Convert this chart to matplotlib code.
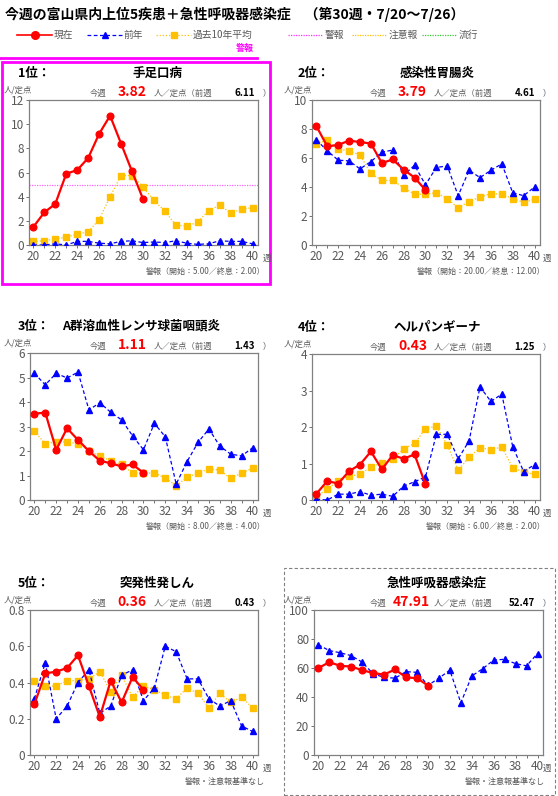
import matplotlib
matplotlib.use("Agg")
import matplotlib.pyplot as plt
from matplotlib.lines import Line2D
from matplotlib.patches import Rectangle

plt.rcParams['font.family'] = ['Noto Sans CJK JP', 'DejaVu Sans']

weeks = list(range(20, 41))
cur_weeks = list(range(20, 31))

titles = ["手足口病", "感染性胃腸炎", "A群溶血性レンサ球菌咽頭炎", "ヘルパンギーナ", "突発性発しん", "急性呼吸器感染症"]
ranks = ["1位：", "2位：", "3位：", "4位：", "5位：", ""]
this_week = ["3.82", "3.79", "1.11", "0.43", "0.36", "47.91"]
last_week = ["6.11", "4.61", "1.43", "1.25", "0.43", "52.47"]
notes = ["警報（開始：5.00／終息：2.00）", "警報（開始：20.00／終息：12.00）", "警報（開始：8.00／終息：4.00）",
         "警報（開始：6.00／終息：2.00）", "警報・注意報基準なし", "警報・注意報基準なし"]
ymax = [12, 10, 6, 4, 0.8, 100]
ystep = [2, 2, 1, 1, 0.2, 20]
warn = [5, None, None, None, None, None]

cur = [
    [1.5, 2.7, 3.4, 5.9, 6.2, 7.2, 9.2, 10.7, 8.4, 6.1, 3.82],
    [8.2, 6.8, 6.9, 7.2, 7.1, 7.0, 5.65, 5.9, 5.2, 4.65, 3.79],
    [3.52, 3.57, 2.05, 2.93, 2.45, 2.0, 1.6, 1.5, 1.37, 1.45, 1.11],
    [0.17, 0.52, 0.45, 0.79, 0.97, 1.33, 0.84, 1.23, 1.13, 1.25, 0.43],
    [0.28, 0.45, 0.46, 0.48, 0.55, 0.38, 0.21, 0.41, 0.29, 0.43, 0.36],
    [60, 64, 61.5, 61, 58.5, 56.5, 55.5, 59, 53.5, 53, 47.91],
]
prev = [
    [0, 0, 0.1, 0, 0.3, 0.3, 0.15, 0.1, 0.3, 0.35, 0.2, 0.25, 0.2, 0.35, 0.15, 0.05, 0.1, 0.35, 0.3, 0.3, 0.1],
    [7.25, 6.5, 5.85, 5.8, 5.25, 5.75, 6.4, 6.55, 4.8, 5.5, 4.15, 5.35, 5.45, 3.4, 5.15, 4.65, 5.15, 5.6, 3.6, 3.4, 4.0],
    [5.17, 4.7, 5.17, 4.98, 5.22, 3.68, 3.97, 3.58, 3.27, 2.62, 2.05, 3.13, 2.58, 0.65, 1.57, 2.35, 2.9, 2.2, 1.87, 1.8, 2.13],
    [0.02, 0.0, 0.16, 0.16, 0.23, 0.13, 0.16, 0.1, 0.38, 0.5, 0.63, 1.8, 1.8, 1.13, 1.62, 3.1, 2.7, 2.9, 1.46, 0.78, 0.97],
    [0.31, 0.51, 0.2, 0.27, 0.4, 0.47, 0.23, 0.27, 0.44, 0.47, 0.30, 0.37, 0.6, 0.57, 0.42, 0.42, 0.31, 0.27, 0.3, 0.16, 0.13],
    [76, 72, 70.5, 68.5, 64, 56, 53.5, 53, 57.5, 57, 48, 53, 58.5, 36, 54.5, 59.5, 65.5, 66, 63, 61.5, 70],
]
avg = [
    [0.3, 0.35, 0.5, 0.65, 0.9, 1.1, 2.1, 4.0, 5.75, 5.75, 4.8, 3.7, 2.8, 1.65, 1.55, 1.9, 2.85, 3.3, 2.65, 2.95, 3.1],
    [6.95, 7.25, 6.6, 6.5, 6.2, 4.95, 4.45, 4.45, 3.95, 3.5, 3.5, 3.6, 3.2, 2.55, 3.0, 3.3, 3.55, 3.5, 3.2, 2.95, 3.15],
    [2.8, 2.3, 2.37, 2.37, 2.3, 2.0, 1.8, 1.6, 1.45, 1.1, 1.1, 1.1, 0.9, 0.58, 0.93, 1.1, 1.27, 1.22, 0.88, 1.1, 1.3],
    [0.1, 0.3, 0.53, 0.65, 0.7, 0.91, 1.01, 1.12, 1.4, 1.55, 1.95, 2.03, 1.5, 0.82, 1.17, 1.43, 1.38, 1.45, 0.88, 0.77, 0.7],
    [0.41, 0.38, 0.38, 0.41, 0.41, 0.42, 0.46, 0.35, 0.44, 0.32, 0.38, 0.36, 0.33, 0.31, 0.37, 0.34, 0.26, 0.34, 0.29, 0.32, 0.26],
    None,
]

W, H = 558, 796
fig = plt.figure(figsize=(W / 100, H / 100), dpi=100)

def fx(x): return x / W
def fy(y): return 1 - y / H
def T(x, y, s, **kw):
    fig.text(fx(x), fy(y), s, **kw)

boxes = [(29, 100, 258, 245), (312, 100, 540, 245), (30, 353, 258, 500),
         (312, 354, 540, 500), (30, 610, 258, 755), (314, 610, 543, 755)]

GR = '#595959'
for i, (l, t, r, b) in enumerate(boxes):
    ax = fig.add_axes([fx(l), fy(b), (r - l) / W, (b - t) / H])
    ax.plot(weeks, prev[i], color='#0000ff', ls=(0, (3, 2)), lw=0.9, marker='^', ms=4.5, zorder=3)
    if avg[i] is not None:
        ax.plot(weeks, avg[i], color='#ffc000', ls=(0, (1, 1.5)), lw=0.9, marker='s', ms=3.8, zorder=2)
    ax.plot(cur_weeks, cur[i], color='#ff0000', lw=1.6, marker='o', ms=4.8, zorder=4)
    if warn[i] is not None:
        ax.axhline(warn[i], color='#ff66ff', ls=(0, (1, 1)), lw=0.9, zorder=1)
    ax.set_xlim(19.6, 40.5)
    ax.set_ylim(0, ymax[i])
    ax.set_xticks(weeks)
    ax.set_xticklabels([str(w) if w % 2 == 0 else '' for w in weeks])
    n = int(round(ymax[i] / ystep[i]))
    yt = [round(k * ystep[i], 2) for k in range(n + 1)]
    ax.set_yticks(yt)
    ax.set_yticklabels([('%g' % v) for v in yt])
    ax.tick_params(labelsize=8.5, colors=GR, length=2, width=0.6, pad=1.5)
    for s in ax.spines.values():
        s.set_color('#808080'); s.set_linewidth(0.9)
    ox = 0 if l < 280 else 280
    top = t
    if ranks[i]:
        T(ox + 18, top - 27, ranks[i], fontsize=9, fontweight='bold', va='center')
    if i == 2:
        T(ox + 62, top - 27, titles[i], fontsize=9, fontweight='bold', va='center')
    else:
        T(ox + 157, top - 27, titles[i], fontsize=9, fontweight='bold', va='center', ha='center')
    T(ox + 4, top - 10, '人/定点', fontsize=6, color=GR, va='center')
    T(ox + 90, top - 7, '今週', fontsize=6, color=GR, va='center')
    T(ox + 147 if i != 5 else ox + 150, top - 8, this_week[i], fontsize=10, color='#ff0000', fontweight='bold', va='center', ha='right')
    T(ox + 154, top - 7, '人／定点（前週', fontsize=6, color=GR, va='center')
    T(ox + 255, top - 7, last_week[i], fontsize=7, color='black', fontweight='bold', va='center', ha='right')
    T(ox + 263, top - 7, '）', fontsize=6, color=GR, va='center')
    T(ox + 263, b + 13, '週', fontsize=6, color=GR, va='center')
    T(ox + 265, b + 26, notes[i], fontsize=5.8, color=GR, va='center', ha='right')

T(5, 14, '今週の富山県内上位5疾患＋急性呼吸器感染症　（第30週・7/20～7/26）', fontsize=10, fontweight='bold', va='center')
leg_y = 35
def leg(x, color, ls, marker, label, ms=4.5):
    fig.add_artist(Line2D([fx(x), fx(x + 35)], [fy(leg_y), fy(leg_y)], color=color, ls=ls, lw=1.2 if marker == 'o' else 0.9))
    if marker:
        fig.add_artist(Line2D([fx(x + 17.5)], [fy(leg_y)], color=color, marker=marker, ms=ms, ls='none'))
    T(x + 37, leg_y, label, fontsize=7, color=GR, va='center')
leg(17, '#ff0000', '-', 'o', '現在', 5.5)
leg(87, '#0000ff', (0, (3, 2)), '^', '前年')
leg(156, '#ffc000', (0, (1, 1.5)), 's', '過去10年平均', 4)
leg(288, '#ff33ff', (0, (1, 1)), None, '警報')
leg(352, '#ffc000', (0, (1, 1)), None, '注意報')
leg(422, '#33cc33', (0, (1, 1)), None, '流行')
T(245, 48, '警報', fontsize=6.5, color='#ff00ff', fontweight='bold', va='center', ha='center')
fig.add_artist(Line2D([0, fx(257)], [fy(58), fy(58)], color='#ff00ff', lw=2))

fig.add_artist(Rectangle((fx(2), fy(284)), fx(268), 222 / H, fill=False, ec='#ff00ff', lw=2))
fig.add_artist(Rectangle((fx(284), fy(795)), fx(271), 227 / H, fill=False, ec='#808080', lw=0.8, ls=(0, (3, 2))))

fig.savefig('out.png', dpi=100)
